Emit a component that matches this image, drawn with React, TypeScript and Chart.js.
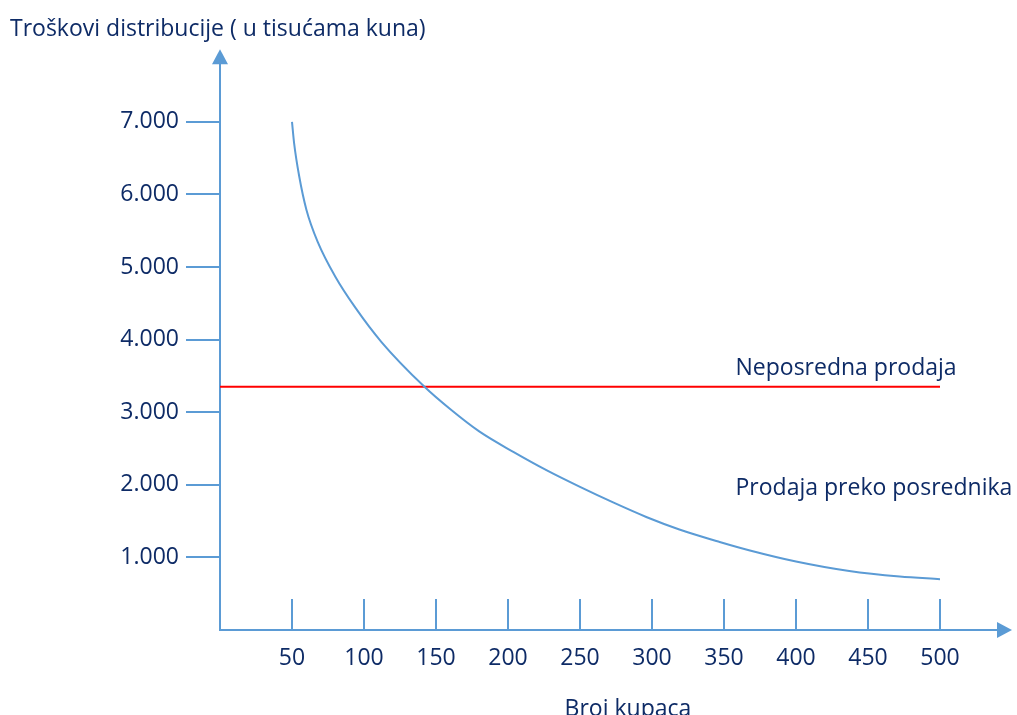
import { useEffect, useRef } from 'react';
import { Chart, registerables } from 'chart.js';

Chart.register(...registerables);

// ---- data ----
const customers = [50, 51.5, 55, 60, 68, 80, 94, 112, 142, 160, 180, 204, 227, 250, 273, 296, 319, 347, 368, 400, 437, 472, 500];
const intermediaryCost = [7000, 6700, 6250, 5790, 5340, 4870, 4440, 3970, 3350, 3040, 2735, 2450, 2198, 1971, 1757, 1557, 1385, 1213, 1096, 944, 813, 737, 700];
const directCustomers = [0, 500];
const directCost = [3350, 3350];
const xTicks = [50, 100, 150, 200, 250, 300, 350, 400, 450, 500];
const yTicks = [1000, 2000, 3000, 4000, 5000, 6000, 7000];
const yTitle = 'Troškovi distribucije ( u tisućama kuna)';
const xTitle = 'Broj kupaca';
const directLabel = 'Neposredna prodaja';
const intermediaryLabel = 'Prodaja preko posrednika';

// ---- styles ----
const AXIS = '#5B9BD5';
const CURVE = '#5B9BD5';
const RED = '#FF0000';
const TEXT = '#0E2B66';
const FONT = '"Open Sans", sans-serif';

const fmt = (v: number) => (v >= 1000 ? `${Math.floor(v / 1000)}.${String(v % 1000).padStart(3, '0')}` : String(v));

const axesPlugin = {
  id: 'axesArrows',
  beforeDatasetsDraw(chart: any) {
    const { ctx, scales, chartArea } = chart;
    const x = scales.x;
    const y = scales.y;
    const x0 = x.getPixelForValue(0);
    const y0 = y.getPixelForValue(0);
    const xEnd = chartArea.right;
    const yEnd = chartArea.top;
    ctx.save();
    ctx.strokeStyle = AXIS;
    ctx.fillStyle = AXIS;
    ctx.lineWidth = 2;
    ctx.beginPath();
    ctx.moveTo(x0, y0 + 1);
    ctx.lineTo(x0, yEnd + 14);
    ctx.moveTo(x0 - 1, y0);
    ctx.lineTo(xEnd - 14, y0);
    for (const v of xTicks) {
      const px = x.getPixelForValue(v);
      ctx.moveTo(px, y0);
      ctx.lineTo(px, y0 - 31);
    }
    ctx.stroke();
    ctx.beginPath();
    ctx.moveTo(x0, yEnd);
    ctx.lineTo(x0 - 8, yEnd + 15);
    ctx.lineTo(x0 + 8, yEnd + 15);
    ctx.closePath();
    ctx.fill();
    ctx.beginPath();
    ctx.moveTo(xEnd, y0);
    ctx.lineTo(xEnd - 15, y0 - 8);
    ctx.lineTo(xEnd - 15, y0 + 8);
    ctx.closePath();
    ctx.fill();
    ctx.restore();
  },
  afterDraw(chart: any) {
    const { ctx, scales } = chart;
    const x = scales.x;
    const y = scales.y;
    ctx.save();
    ctx.fillStyle = TEXT;
    ctx.font = `23px ${FONT}`;
    ctx.textBaseline = 'middle';
    ctx.textAlign = 'left';
    ctx.fillText(directLabel, x.getPixelForValue(358), y.getPixelForValue(3597));
    ctx.fillText(intermediaryLabel, x.getPixelForValue(358), y.getPixelForValue(1946));
    ctx.textAlign = 'center';
    ctx.fillText(xTitle, x.getPixelForValue(283.3), 709.5);
    ctx.restore();
  },
};

export default function App() {
  const ref = useRef<HTMLCanvasElement | null>(null);
  useEffect(() => {
    document.body.style.margin = '0';
    const canvas = ref.current;
    if (!canvas) return;
    const chart = new Chart(canvas, {
      type: 'line',
      data: {
        datasets: [
          {
            label: intermediaryLabel,
            data: customers.map((c, i) => ({ x: c, y: intermediaryCost[i] })),
            borderColor: CURVE,
            borderWidth: 2,
            pointRadius: 0,
            cubicInterpolationMode: 'monotone',
            fill: false,
          },
          {
            label: directLabel,
            data: directCustomers.map((c, i) => ({ x: c, y: directCost[i] })),
            borderColor: RED,
            borderWidth: 2,
            pointRadius: 0,
            fill: false,
          },
        ],
      },
      options: {
        responsive: false,
        animation: false,
        events: [],
        layout: { padding: { left: 10, right: 5, top: 0, bottom: 0 } },
        plugins: {
          legend: { display: false },
          tooltip: { enabled: false },
          title: {
            display: true,
            text: yTitle,
            align: 'start',
            color: TEXT,
            font: { family: FONT, size: 23, weight: 'normal', lineHeight: 1.2 },
            padding: { top: 16, bottom: 5.6 },
          },
        },
        scales: {
          x: {
            type: 'linear',
            min: 0,
            max: 550,
            grid: { display: false },
            border: { display: false },
            afterBuildTicks: (axis: any) => {
              axis.ticks = xTicks.map((v) => ({ value: v }));
            },
            afterFit: (s: any) => {
              s.height = 85;
            },
            ticks: {
              color: TEXT,
              font: { family: FONT, size: 23 },
              padding: 7,
              maxRotation: 0,
              autoSkip: false,
              callback: (v: any) => String(v),
            },
          },
          y: {
            type: 'linear',
            min: 0,
            max: 8000,
            border: { display: false },
            grid: {
              display: true,
              drawOnChartArea: false,
              drawTicks: true,
              tickLength: 34,
              color: AXIS,
              lineWidth: 2,
            },
            afterBuildTicks: (axis: any) => {
              axis.ticks = yTicks.map((v) => ({ value: v }));
            },
            afterFit: (s: any) => {
              s.width = 210;
            },
            ticks: {
              color: TEXT,
              font: { family: FONT, size: 23 },
              padding: 7,
              autoSkip: false,
              callback: (v: any) => fmt(Number(v)),
            },
          },
        },
      },
      plugins: [axesPlugin],
    } as any);
    return () => chart.destroy();
  }, []);
  return (
    <div style={{ width: 1017, height: 715, position: 'relative', background: '#fff' }}>
      <canvas ref={ref} width={1017} height={715} />
    </div>
  );
}
